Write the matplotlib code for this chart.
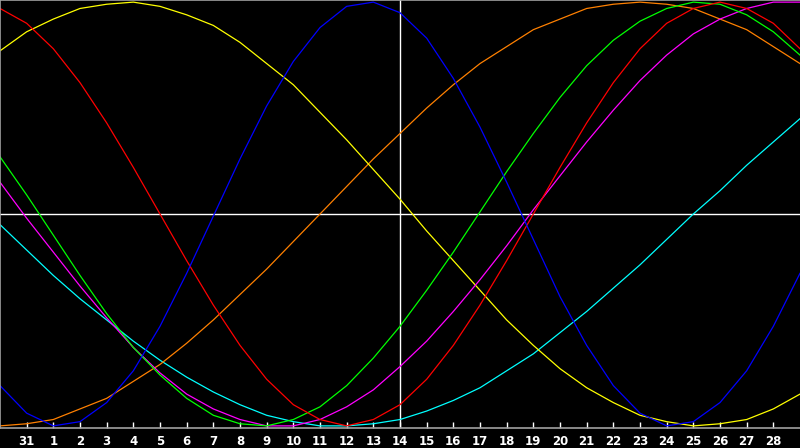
import numpy as np
import matplotlib
matplotlib.use("Agg")
import matplotlib.pyplot as plt

# day labels along the bottom (index 0 and 30 are the unlabeled edges)
days = np.arange(31)
tick_pos = np.arange(1, 30)
tick_labels = ['31'] + [str(d) for d in range(1, 29)]

# curve values in percent, one per day
blue = [-81, -94, -100, -98, -89, -74, -53, -28, -1, 26, 51, 72, 88, 98, 100, 95,
        83, 64, 41, 15, -12, -39, -62, -81, -94, -100, -98, -89, -74, -53, -28]
red = [97, 90, 78, 62, 43, 22, 0, -22, -43, -62, -78, -90, -97, -100, -97, -90,
       -78, -62, -43, -22, 0, 22, 43, 62, 78, 90, 97, 100, 97, 90, 78]
yellow = [77, 86, 92, 97, 99, 100, 98, 94, 89, 81, 71, 61, 48, 35, 21, 7,
          -8, -22, -36, -50, -62, -73, -82, -89, -95, -98, -100, -99, -97, -92, -85]
orange = [-100, -99, -97, -92, -87, -79, -71, -61, -50, -38, -26, -13, 0, 13, 26, 38,
          50, 61, 71, 79, 87, 92, 97, 99, 100, 99, 97, 92, 87, 79, 71]
green = [27, 9, -10, -29, -47, -63, -76, -87, -95, -99, -100, -97, -91, -81, -68, -53,
         -36, -18, 1, 20, 38, 55, 70, 82, 91, 97, 100, 99, 94, 86, 75]
magenta = [15, -2, -18, -34, -49, -63, -75, -85, -92, -97, -100, -100, -97, -91, -83, -72,
           -60, -46, -31, -15, 2, 18, 34, 49, 63, 75, 85, 92, 97, 100, 100]
cyan = [-5, -17, -29, -40, -50, -60, -69, -77, -84, -90, -95, -98, -100, -100, -99, -97,
        -93, -88, -82, -74, -66, -56, -46, -35, -24, -12, 0, 11, 23, 34, 45]

fig = plt.figure(figsize=(8, 4.48), dpi=100, facecolor='black')
ax = fig.add_axes([0, 20 / 448, 1, 428 / 448], facecolor='black')

# crosshair
ax.axhline(0, color='white', lw=1.0, zorder=1)
ax.axvline(15, color='white', lw=1.0, zorder=1)

lw = 0.9
ax.plot(days, cyan, color='#00FFFF', lw=lw, zorder=2)
ax.plot(days, orange, color='#FF8000', lw=lw, zorder=2)
ax.plot(days, yellow, color='#FFFF00', lw=lw, zorder=2)
ax.plot(days, magenta, color='#FF00FF', lw=lw, zorder=2)
ax.plot(days, green, color='#00FF00', lw=lw, zorder=2)
ax.plot(days, red, color='#FF0000', lw=lw, zorder=2)
ax.plot(days, blue, color='#0000FF', lw=lw, zorder=2)

ax.set_xlim(0, 30)
ax.set_ylim(-101, 101)

for side in ['top', 'left', 'bottom']:
    ax.spines[side].set_color('#a0a0a0')
    ax.spines[side].set_linewidth(1.2)
ax.spines['right'].set_visible(False)

ax.set_yticks([])
ax.set_xticks(tick_pos)
ax.set_xticklabels(tick_labels, fontsize=8.5, fontweight='bold', color='white',
                   family='DejaVu Sans')
ax.tick_params(axis='x', direction='in', length=4, width=1, color='white', pad=5)

fig.savefig('out.png', dpi=100, facecolor='black')
